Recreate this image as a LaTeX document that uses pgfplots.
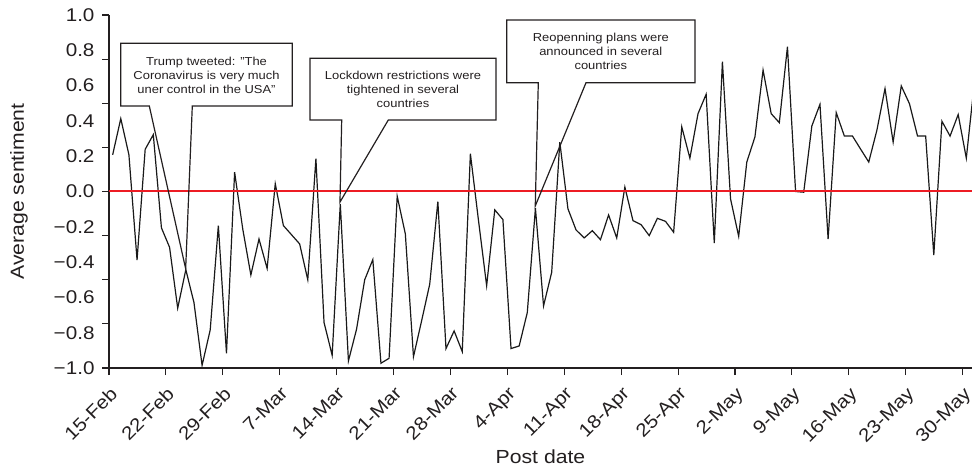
\documentclass[border=0pt]{standalone}
\usepackage{fontspec}
\setmainfont{Liberation Sans}[FakeStretch=1.12]
\usepackage{pgfplots}
\usepackage{pgfplotstable}
\pgfplotsset{compat=1.18}
\definecolor{txt}{RGB}{35,31,32}
\definecolor{zred}{RGB}{237,28,36}
\newcommand{\tlfont}{\fontsize{18.5}{22}\selectfont}
\pgfplotstableread{
d v
0 0.208
1 0.413
2 0.208
3 -0.388
4 0.239
5 0.322
6 -0.206
7 -0.316
8 -0.661
9 -0.443
10 -0.629
11 -0.985
12 -0.784
13 -0.193
14 -0.917
15 0.110
16 -0.212
17 -0.473
18 -0.269
19 -0.436
20 0.044
21 -0.193
22 -0.245
23 -0.297
24 -0.500
25 0.186
26 -0.742
27 -0.928
28 -0.070
29 -0.960
30 -0.780
31 -0.500
32 -0.386
33 -0.973
34 -0.945
35 -0.027
36 -0.240
37 -0.936
38 -0.733
39 -0.525
40 -0.057
41 -0.890
42 -0.790
43 -0.907
44 0.214
45 -0.165
46 -0.534
47 -0.104
48 -0.159
49 -0.890
50 -0.875
51 -0.686
52 -0.095
53 -0.648
54 -0.458
55 0.280
56 -0.098
57 -0.218
58 -0.263
59 -0.222
60 -0.273
61 -0.133
62 -0.263
63 0.025
64 -0.165
65 -0.188
66 -0.250
67 -0.152
68 -0.169
69 -0.231
70 0.366
71 0.189
72 0.441
73 0.551
74 -0.292
75 0.735
76 -0.042
77 -0.254
78 0.167
79 0.309
80 0.688
81 0.441
82 0.390
83 0.820
84 0.000
85 -0.004
86 0.371
87 0.494
88 -0.269
89 0.447
90 0.314
91 0.314
92 0.240
93 0.167
94 0.347
95 0.583
96 0.280
97 0.598
98 0.498
99 0.314
100 0.314
101 -0.360
102 0.398
103 0.314
104 0.436
105 0.189
106 0.620
}\sentiment
\pgfplotstableread{
x y
0 0
106.15 0
}\zeroline
\begin{document}
\begin{tikzpicture}
\begin{axis}[
  at={(109bp,101bp)}, anchor=south west,
  scale only axis, width=863bp, height=353bp,
  xmin=0, xmax=106.15, ymin=-1, ymax=1,
  axis lines=left,
  axis line style={-, line width=1.1bp, draw=txt},
  every tick/.style={line width=1.1bp, draw=txt},
  tick align=outside,
  major tick length=7bp,
  xtick={0,7,14,21,28,35,42,49,56,63,70,77,84,91,98,105},
  xticklabels={15-Feb,22-Feb,29-Feb,7-Mar,14-Mar,21-Mar,28-Mar,4-Apr,11-Apr,18-Apr,25-Apr,2-May,9-May,16-May,23-May,30-May},
  xticklabel style={font=\tlfont, text=txt, xshift=0bp, yshift=-9bp, rotate=45, anchor=north east, inner sep=1bp},
  ytick={-1,-0.75,-0.5,-0.25,0,0.25,0.5,0.75,1},
  yticklabels={,,,,,,,,},
  extra y ticks={-1,-0.8,-0.6,-0.4,-0.2,0,0.2,0.4,0.6,0.8,1},
  extra y tick labels={−1.0,−0.8,−0.6,−0.4,−0.2,0.0,0.2,0.4,0.6,0.8,1.0},
  extra y tick style={major tick length=0pt, yticklabel style={font=\tlfont, text=txt, xshift=-11bp}},
  yticklabel style={font=\tlfont, text=txt},
  xlabel={Post date},
  ylabel={Average sentiment},
  label style={font=\fontsize{19}{22}\selectfont, text=txt},
  xlabel style={at={(axis description cs:0.5,0)}, anchor=base, yshift=-95bp},
  ylabel style={at={(axis description cs:0,0.5)}, anchor=base, yshift=85bp},
  clip=true,
]
\addplot[line width=1.2bp, draw=black!90] table[x expr=\thisrow{d}+0.45, y=v] {\sentiment};
\addplot[line width=2bp, draw=zred, mark=none] table[x=x, y=y] {\zeroline};
\coordinate (t1) at (axis cs:9.43,-0.4375);
\coordinate (t2) at (axis cs:28.41,-0.06);
\coordinate (t3) at (axis cs:52.43,-0.082);
\end{axis}
\begin{scope}[line width=1.2bp, draw=txt]
\draw (149.3bp,363bp) -- (120.7bp,363bp) -- (120.7bp,425.7bp) -- (292.3bp,425.7bp) -- (292.3bp,363bp) -- (192.3bp,363bp) -- (t1) -- cycle;
\draw (341.7bp,349bp) -- (310bp,349bp) -- (310bp,410.7bp) -- (496bp,410.7bp) -- (496bp,349bp) -- (388.3bp,349bp) -- (t2) -- cycle;
\draw (538.3bp,386.3bp) -- (506.7bp,386.3bp) -- (506.7bp,449bp) -- (695bp,449bp) -- (695bp,386.3bp) -- (586bp,386.3bp) -- (t3) -- cycle;
\end{scope}
\begin{scope}[every node/.style={align=center, text=txt, font=\fontsize{11.6}{14}\selectfont, inner sep=0pt}]
\node at (206.5bp,394bp) {Trump tweeted: "The\\Coronavirus is very much\\uner control in the USA"};
\node at (403bp,379.5bp) {Lockdown restrictions were\\tightened in several\\countries};
\node at (600.8bp,417.7bp) {Reopenning plans were\\announced in several\\countries};
\end{scope}
\pgfresetboundingbox
\path[use as bounding box] (0,0) rectangle (972bp,469bp);
\end{tikzpicture}
\end{document}
